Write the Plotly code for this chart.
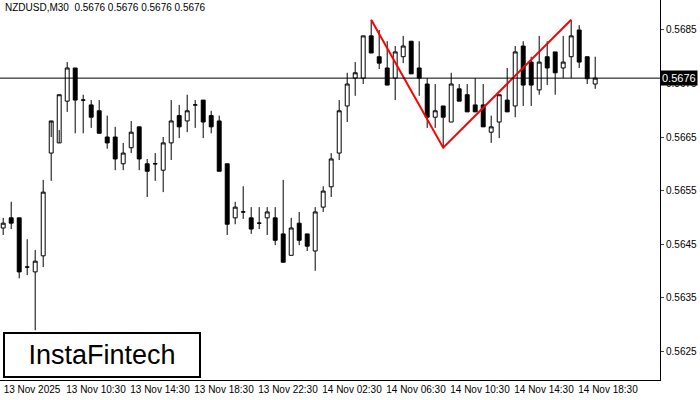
import plotly.graph_objects as go

# NZDUSD M30, 13 Nov 06:30 .. 14 Nov 19:30
opens = [0.5648, 0.56499, 0.56499, 0.56407, 0.56398, 0.56428, 0.5662, 0.56639, 0.56717, 0.56779,
         0.56719, 0.5671, 0.56699, 0.5665, 0.5665, 0.5660, 0.5663, 0.56669, 0.5660, 0.5660,
         0.56588, 0.56639, 0.5669, 0.5668, 0.5671, 0.56719, 0.5669, 0.5668, 0.5660, 0.56499,
         0.5651, 0.56499, 0.56489, 0.56499, 0.56499, 0.56469, 0.56429, 0.56489, 0.56469, 0.56437,
         0.56519, 0.56557, 0.5662, 0.56708, 0.5676, 0.5676, 0.56839, 0.568, 0.56779, 0.5676,
         0.568, 0.56829, 0.56779, 0.56749, 0.56687, 0.56708, 0.56678, 0.5674, 0.56729, 0.5671,
         0.5671, 0.56659, 0.56678, 0.56719, 0.56708, 0.5682, 0.5679, 0.56738, 0.568, 0.56809,
         0.56779, 0.568, 0.5685, 0.568, 0.56749]
highs = [0.56499, 0.56529, 0.56499, 0.56459, 0.56439, 0.5657, 0.5665, 0.56729, 0.5679, 0.56779,
         0.56729, 0.56719, 0.56719, 0.5669, 0.56669, 0.56639, 0.5668, 0.56669, 0.56609, 0.5662,
         0.5665, 0.56719, 0.5671, 0.56729, 0.56719, 0.56719, 0.56699, 0.5669, 0.5660, 0.56529,
         0.56558, 0.56519, 0.56519, 0.56519, 0.56519, 0.5657, 0.56499, 0.5651, 0.56469, 0.56519,
         0.56558, 0.5662, 0.56719, 0.5677, 0.5679, 0.56839, 0.56869, 0.5685, 0.56829, 0.5682,
         0.56839, 0.56829, 0.56829, 0.5676, 0.56749, 0.56708, 0.5677, 0.56749, 0.56749, 0.5676,
         0.56749, 0.5669, 0.56729, 0.56779, 0.5682, 0.56829, 0.568, 0.56839, 0.56829, 0.56809,
         0.56839, 0.56869, 0.56859, 0.568, 0.568]
lows = [0.56467, 0.56478, 0.56386, 0.56392, 0.56289, 0.56407, 0.56568, 0.56663, 0.56697, 0.56657,
        0.56657, 0.56667, 0.56657, 0.56628, 0.56588, 0.56588, 0.5662, 0.56588, 0.56538, 0.56568,
        0.56547, 0.56607, 0.56648, 0.56659, 0.56667, 0.56648, 0.56657, 0.56586, 0.56467, 0.56487,
        0.56497, 0.56469, 0.56478, 0.56467, 0.56448, 0.56416, 0.56429, 0.56448, 0.56437, 0.564,
        0.5651, 0.56538, 0.56607, 0.56678, 0.56727, 0.56749, 0.56807, 0.56777, 0.56747, 0.56719,
        0.56788, 0.56768, 0.56727, 0.56667, 0.56667, 0.5663, 0.56678, 0.56717, 0.56697, 0.56697,
        0.56669, 0.56639, 0.56648, 0.56697, 0.56687, 0.56708, 0.56708, 0.56729, 0.56747, 0.56729,
        0.5676, 0.5676, 0.56779, 0.56749, 0.5674]
closes = [0.56489, 0.56489, 0.56398, 0.56407, 0.56418, 0.56547, 0.5668, 0.56729, 0.56779, 0.56719,
          0.56719, 0.56687, 0.56657, 0.56639, 0.56609, 0.5662, 0.56659, 0.56609, 0.56586, 0.5660,
          0.56639, 0.5668, 0.56669, 0.56699, 0.5671, 0.56678, 0.56669, 0.56586, 0.56487, 0.56519,
          0.5651, 0.56478, 0.56489, 0.5651, 0.56457, 0.56416, 0.5648, 0.56457, 0.56446, 0.5651,
          0.56549, 0.56609, 0.56699, 0.56749, 0.5677, 0.56839, 0.56807, 0.56788, 0.56747, 0.56809,
          0.5682, 0.56768, 0.5676, 0.56687, 0.56699, 0.56687, 0.56749, 0.56717, 0.56697, 0.56697,
          0.56669, 0.56669, 0.56729, 0.56697, 0.56809, 0.56747, 0.56747, 0.5679, 0.56779, 0.5677,
          0.5679, 0.56839, 0.5679, 0.56759, 0.5676]

# double top pattern: peak1, trough, peak2
pat_idx = [46, 55, 71]
pat_price = [0.56869, 0.5663, 0.56869]

last_price = 0.5676
tick_labels = ["13 Nov 2025", "13 Nov 10:30", "13 Nov 14:30", "13 Nov 18:30", "13 Nov 22:30",
               "14 Nov 02:30", "14 Nov 06:30", "14 Nov 10:30", "14 Nov 14:30", "14 Nov 18:30"]
price_ticks = [0.5625, 0.5635, 0.5645, 0.5655, 0.5665, 0.5675, 0.5685]

idx = list(range(len(opens)))

fig = go.Figure()
fig.add_trace(go.Candlestick(
    x=idx, open=opens, high=highs, low=lows, close=closes,
    increasing=dict(line=dict(color="black", width=1), fillcolor="white"),
    decreasing=dict(line=dict(color="black", width=1), fillcolor="black"),
    whiskerwidth=0, showlegend=False, hoverinfo="skip"))
fig.add_trace(go.Scatter(x=pat_idx, y=pat_price, mode="lines",
                         line=dict(color="red", width=2), showlegend=False))
fig.add_hline(y=last_price, line=dict(color="black", width=1))

fig.add_annotation(x=1, xref="paper", y=last_price, yref="y", xanchor="left",
                   text="0.5676", showarrow=False, bgcolor="black",
                   font=dict(color="white", size=11, family="Arial"), borderpad=1)
fig.add_annotation(x=0.005, xref="paper", y=1, yref="paper", xanchor="left", yanchor="top",
                   text="NZDUSD,M30  0.5676 0.5676 0.5676 0.5676", showarrow=False,
                   font=dict(size=10, color="black", family="Arial"))
fig.add_annotation(x=0.005, xref="paper", y=0.005, yref="paper", xanchor="left", yanchor="bottom",
                   text="InstaFintech", showarrow=False, bgcolor="white",
                   bordercolor="black", borderwidth=2, borderpad=6, width=182,
                   font=dict(size=27, color="black", family="Arial"))

fig.update_layout(
    width=700, height=400, margin=dict(l=0, r=40, t=0, b=20),
    paper_bgcolor="white", plot_bgcolor="white",
    xaxis=dict(range=[-0.4, 82.1], rangeslider=dict(visible=False), showgrid=False,
               tickvals=[i * 8 + 3.6 for i in range(len(tick_labels))], ticktext=tick_labels,
               ticks="", showline=True, linecolor="black", mirror=True,
               tickfont=dict(size=10, family="Arial", color="black"), zeroline=False),
    yaxis=dict(range=[0.56196, 0.56906], side="right", showgrid=False,
               tickvals=price_ticks, ticktext=[f"{p:.4f}" for p in price_ticks],
               ticks="outside", ticklen=3, showline=True, linecolor="black", mirror=True,
               tickfont=dict(size=10, family="Arial", color="black"), zeroline=False),
)

fig.write_html("out.html", config={"displayModeBar": False},
               post_script="document.body.style.margin='0';")
